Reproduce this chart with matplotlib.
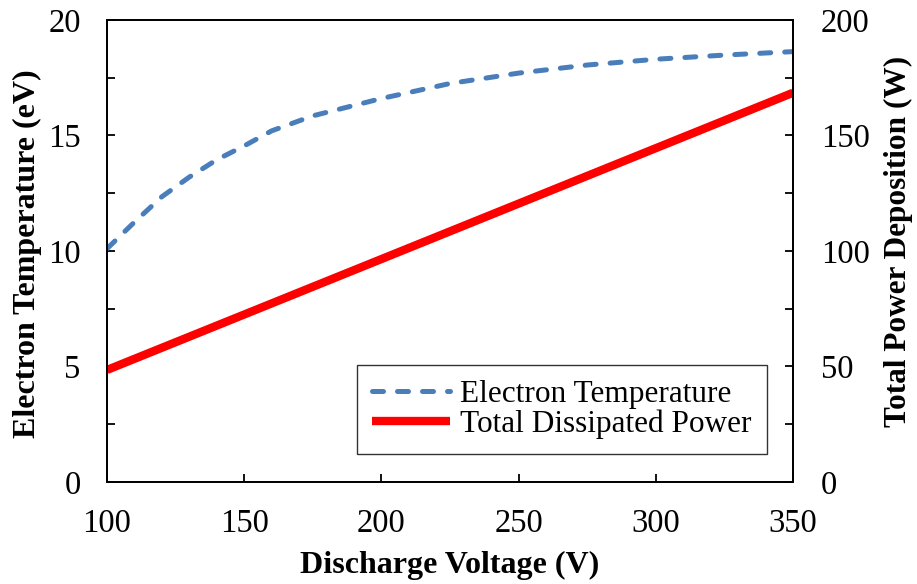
import matplotlib
matplotlib.use("Agg")
import matplotlib.pyplot as plt
from matplotlib.ticker import MultipleLocator

# Data
voltage_te = [100, 110, 120, 130, 140, 150, 160, 175, 200, 225, 250, 275, 300, 325, 350]
electron_temp = [10.1, 11.25, 12.35, 13.2, 13.95, 14.55, 15.2, 15.85, 16.6, 17.25,
                 17.7, 18.05, 18.3, 18.48, 18.63]
voltage_pw = [100, 350]
total_power = [48.5, 168.5]

x_ticks = [100, 150, 200, 250, 300, 350]
left_ticks = [0, 5, 10, 15, 20]
right_ticks = [0, 50, 100, 150, 200]

plt.rcParams['font.family'] = ['Liberation Serif', 'DejaVu Serif']

fig = plt.figure(figsize=(9.17, 5.84), dpi=100)
ax = fig.add_axes([0.1167, 0.1747, 0.7481, 0.7911])
ax2 = ax.twinx()

blue = '#4A7EBB'
red = '#FF0000'

l1, = ax.plot(voltage_te, electron_temp, color=blue, lw=3.6,
              dashes=(2.2, 2.8), dash_capstyle='round',
              label='Electron Temperature')
l2, = ax2.plot(voltage_pw, total_power, color=red, lw=6.0,
               solid_capstyle='butt', label='Total Dissipated Power')

ax.set_xlim(100, 350)
ax.set_ylim(0, 20)
ax2.set_ylim(0, 200)

ax.set_xticks(x_ticks)
ax.set_yticks(left_ticks)
ax.yaxis.set_minor_locator(MultipleLocator(2.5))
ax2.set_yticks(right_ticks)
ax2.yaxis.set_minor_locator(MultipleLocator(25))

for a in (ax, ax2):
    a.tick_params(axis='both', which='both', direction='in', length=6,
                  width=1.3, labelsize=23.5)
    for s in a.spines.values():
        s.set_linewidth(1.3)
ax.tick_params(axis='x', pad=19)
ax.tick_params(axis='y', pad=19)
ax2.tick_params(axis='y', pad=20)

ax.set_xlabel('Discharge Voltage (V)', fontsize=23, fontweight='bold')
ax.set_ylabel('Electron Temperature (eV)', fontsize=23, fontweight='bold')
ax2.set_ylabel('Total Power Deposition (W)', fontsize=22.5, fontweight='bold')
ax.xaxis.set_label_coords(0.5, -0.181)
ax.xaxis.label.set_verticalalignment('center')
ax.yaxis.set_label_coords(-0.116, 0.495)
ax.yaxis.label.set_verticalalignment('center')
ax2.yaxis.set_label_coords(1.153, 0.52)
ax2.yaxis.label.set_verticalalignment('center')

leg = ax.legend(handles=[l1, l2], loc='lower right',
                bbox_to_anchor=(0.962, 0.06), fontsize=22.5,
                frameon=True, fancybox=False, edgecolor='black',
                handlelength=2.5, handletextpad=0.3, borderpad=0.5,
                labelspacing=0.0, borderaxespad=0)
leg.get_frame().set_linewidth(1.0)

fig.savefig('out.png', dpi=100)
